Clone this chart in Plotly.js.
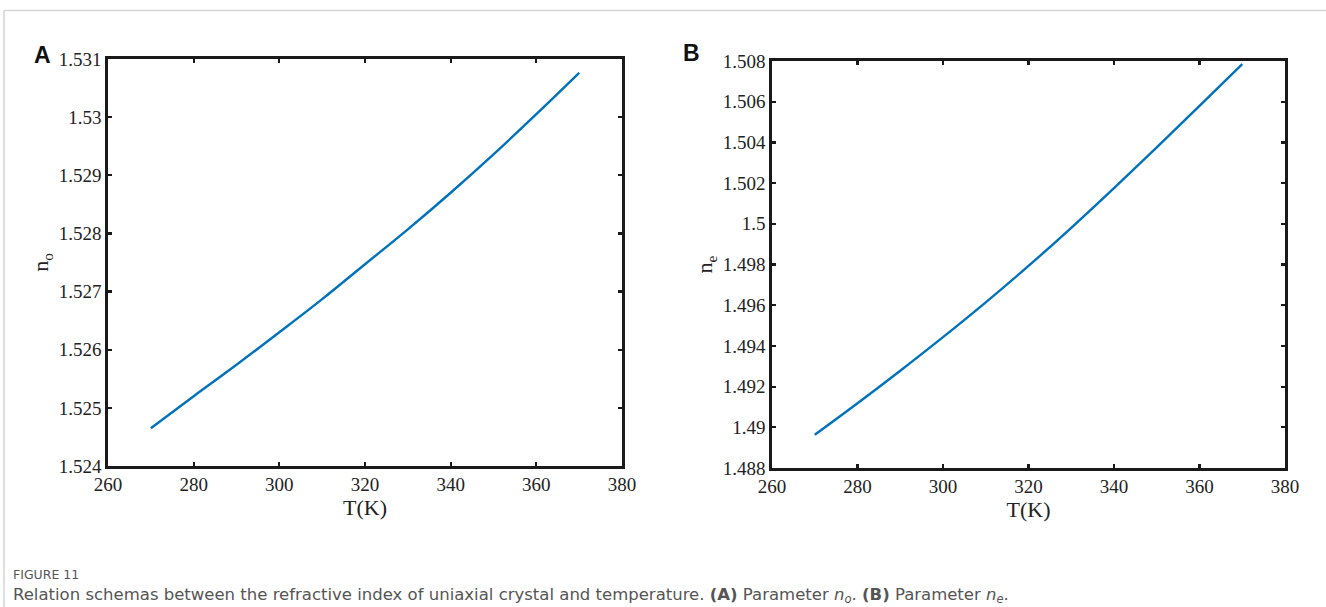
<!DOCTYPE html>
<html>
<head>
<meta charset="utf-8">
<script src="https://cdn.plot.ly/plotly-3.0.1.min.js"></script>
<style>
html,body{margin:0;padding:0;background:#fff;}
#chart{width:1326px;height:607px;}
</style>
</head>
<body>
<div id="chart"></div>
<script>
// Temperature (K)
const temperature = [270, 280, 290, 300, 310, 320, 330, 340, 350, 360, 370];
// Panel A: ordinary refractive index n_o
const nO = [1.52465, 1.52520, 1.52574, 1.52630, 1.52687, 1.52747, 1.52807, 1.52870, 1.52936, 1.53005, 1.53076];
// Panel B: extraordinary refractive index n_e
const nE = [1.48963, 1.49118, 1.49278, 1.49443, 1.49614, 1.49793, 1.49980, 1.50175, 1.50375, 1.50580, 1.50785];

const xTickVals = [260, 280, 300, 320, 340, 360, 380];
const xTickText = ["260", "280", "300", "320", "340", "360", "380"];
const yTickValsA = [1.524, 1.525, 1.526, 1.527, 1.528, 1.529, 1.530, 1.531];
const yTickTextA = ["1.524", "1.525", "1.526", "1.527", "1.528", "1.529", "1.53", "1.531"];
const yTickValsB = [1.488, 1.490, 1.492, 1.494, 1.496, 1.498, 1.500, 1.502, 1.504, 1.506, 1.508];
const yTickTextB = ["1.488", "1.49", "1.492", "1.494", "1.496", "1.498", "1.5", "1.502", "1.504", "1.506", "1.508"];

const W = 1326, H = 607;
const px = v => v / W;
const py = v => 1 - v / H;

const lineColor = "#0072BD";
const serif = "Liberation Serif, Times New Roman, serif";
const tickFont = {family: serif, size: 19, color: "#222"};
const titleFont = {family: serif, size: 22, color: "#222"};
const captionFamily = "DejaVu Sans, Open Sans, sans-serif";

const traces = [
  {x: temperature, y: nO, type: "scatter", mode: "lines", xaxis: "x", yaxis: "y",
   line: {color: lineColor, width: 2.4, shape: "spline"}, hoverinfo: "x+y", showlegend: false},
  {x: temperature, y: nE, type: "scatter", mode: "lines", xaxis: "x2", yaxis: "y2",
   line: {color: lineColor, width: 2.4, shape: "spline"}, hoverinfo: "x+y", showlegend: false}
];

function xAxis(domain, anchor) {
  return {
    domain: domain, anchor: anchor, range: [260, 380],
    tickvals: xTickVals, ticktext: xTickText,
    ticks: "inside", ticklen: 4, tickwidth: 2.2, tickcolor: "#1a1a1a",
    showline: true, linecolor: "#1a1a1a", linewidth: 2.6, mirror: "allticks",
    showgrid: false, zeroline: false, automargin: false,
    tickfont: tickFont,
    title: {text: "T(K)", font: titleFont, standoff: 0}
  };
}
function yAxis(domain, anchor, range, vals, text, title) {
  return {
    domain: domain, anchor: anchor, range: range,
    tickvals: vals, ticktext: text,
    ticks: "inside", ticklen: 4, tickwidth: 2.2, tickcolor: "#1a1a1a",
    showline: true, linecolor: "#1a1a1a", linewidth: 2.6, mirror: "allticks",
    showgrid: false, zeroline: false, automargin: false,
    tickfont: tickFont,
    title: {text: title, font: titleFont, standoff: 4}
  };
}

const layout = {
  width: W, height: H,
  margin: {l: 0, r: 0, t: 0, b: 0, pad: 0},
  paper_bgcolor: "#ffffff", plot_bgcolor: "#ffffff",
  showlegend: false,
  xaxis: xAxis([px(108), px(622)], "y"),
  yaxis: yAxis([py(466), py(59)], "x", [1.524, 1.531], yTickValsA, yTickTextA, "n<sub>o</sub>"),
  xaxis2: xAxis([px(772), px(1285)], "y2"),
  yaxis2: yAxis([py(468), py(61)], "x2", [1.488, 1.508], yTickValsB, yTickTextB, "n<sub>e</sub>"),
  shapes: [
    {type: "line", xref: "paper", yref: "paper", x0: px(4), x1: 1.01, y0: py(10.5), y1: py(10.5),
     line: {color: "#d4d4d4", width: 1.5}},
    {type: "line", xref: "paper", yref: "paper", x0: px(4), x1: px(4), y0: py(10.5), y1: -0.01,
     line: {color: "#d4d4d4", width: 1.5}}
  ],
  annotations: [
    {text: "<b>A</b>", xref: "paper", yref: "paper", x: px(42), y: py(55), xanchor: "center", yanchor: "middle",
     showarrow: false, font: {family: "Liberation Sans, Arial, sans-serif", size: 23, color: "#111"}},
    {text: "<b>B</b>", xref: "paper", yref: "paper", x: px(691), y: py(53), xanchor: "center", yanchor: "middle",
     showarrow: false, font: {family: "Liberation Sans, Arial, sans-serif", size: 23, color: "#111"}},
    {text: "FIGURE 11", xref: "paper", yref: "paper", x: px(11), y: py(574), xanchor: "left", yanchor: "middle",
     showarrow: false, font: {family: captionFamily, size: 12.5, color: "#555"}},
    {text: "Relation schemas between the refractive index of uniaxial crystal and temperature. <b>(A)</b> Parameter <i>n</i><sub><i>o</i></sub>. <b>(B)</b> Parameter <i>n</i><sub><i>e</i></sub>.",
     xref: "paper", yref: "paper", x: px(11), y: py(595), xanchor: "left", yanchor: "middle",
     showarrow: false, font: {family: captionFamily, size: 16.5, color: "#555"}}
  ]
};

Plotly.newPlot("chart", traces, layout, {staticPlot: true, displayModeBar: false});
</script>
</body>
</html>
